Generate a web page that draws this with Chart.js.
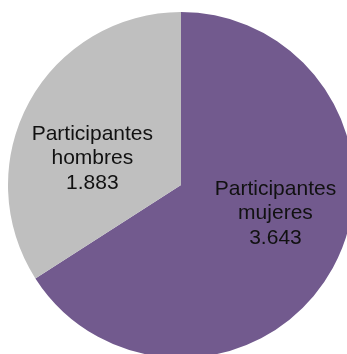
<!DOCTYPE html>
<html>
<head>
<meta charset="utf-8">
<script src="https://cdn.jsdelivr.net/npm/chart.js@4"></script>
<style>
  html, body { margin: 0; padding: 0; background: #fff; overflow: hidden; width: 347px; height: 354px; }
  #wrap { position: absolute; left: 8px; top: 12px; width: 346px; height: 346px; }
</style>
</head>
<body>
<div id="wrap"><canvas id="pieChart" width="346" height="346"></canvas></div>
<script>
var categories = ['Participantes mujeres', 'Participantes hombres'];
var labelLines = [['Participantes', 'mujeres'], ['Participantes', 'hombres']];
var participantes = [3643, 1883];
var sliceColors = ['#725a8e', '#bfbfbf'];

// label placement along each slice: fraction of radius, plus a small turn
var labelRadius = [0.57, 0.535];
var labelTurn = -12 * Math.PI / 180;

function formatNumber(v) {
    return v.toString().replace(/\B(?=(\d{3})+(?!\d))/g, '.');
}

var sliceLabels = {
    id: 'sliceLabels',
    afterDatasetsDraw: function(chart) {
        var ctx = chart.ctx;
        var meta = chart.getDatasetMeta(0);
        ctx.save();
        ctx.font = '21px "Liberation Sans", Arial, sans-serif';
        ctx.fillStyle = '#111';
        ctx.textAlign = 'center';
        ctx.textBaseline = 'middle';
        meta.data.forEach(function(arc, i) {
            var mid = (arc.startAngle + arc.endAngle) / 2 + labelTurn;
            var r = arc.outerRadius * labelRadius[i];
            var x = arc.x + Math.cos(mid) * r;
            var y = arc.y + Math.sin(mid) * r;
            var lines = labelLines[i].concat([formatNumber(chart.data.datasets[0].data[i])]);
            var lh = 24.5;
            var y0 = y - (lines.length - 1) * lh / 2;
            lines.forEach(function(t, k) {
                ctx.fillText(t, x, y0 + k * lh);
            });
        });
        ctx.restore();
    }
};

var ctx = document.getElementById('pieChart').getContext('2d');
var chart = new Chart(ctx, {
    type: 'pie',
    data: {
        labels: categories,
        datasets: [{
            data: participantes,
            backgroundColor: sliceColors,
            borderWidth: 0
        }]
    },
    options: {
        responsive: false,
        animation: false,
        layout: { padding: 0 },
        plugins: {
            legend: { display: false },
            tooltip: { enabled: false }
        }
    },
    plugins: [sliceLabels]
});
</script>
</body>
</html>
